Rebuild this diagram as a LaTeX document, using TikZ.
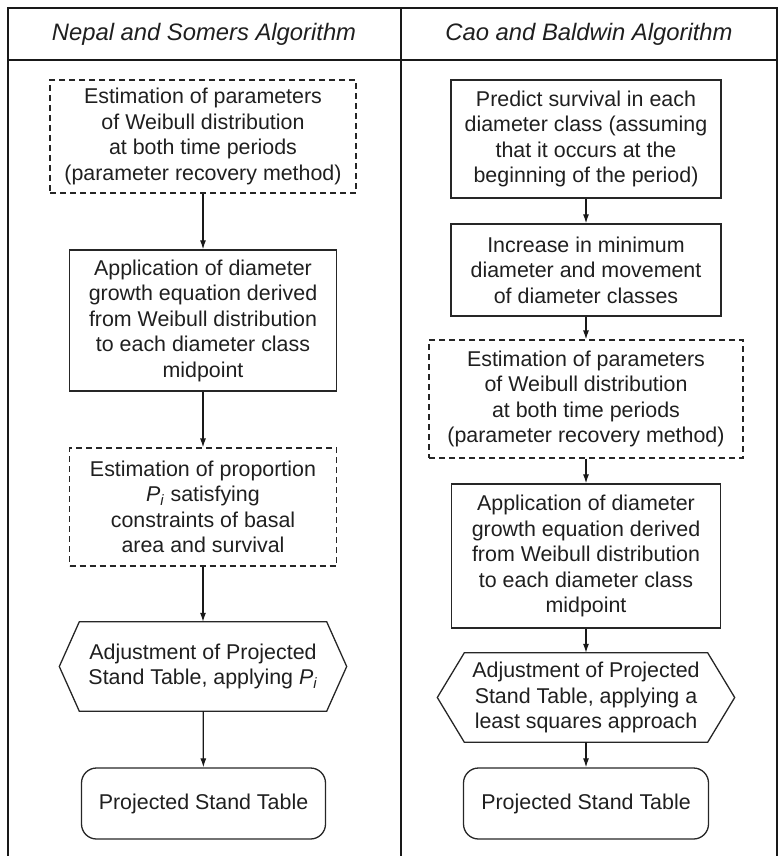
\documentclass[tikz,border=0pt]{standalone}
\usepackage{fontspec}
\setmainfont{Liberation Sans}
\usetikzlibrary{arrows.meta,calc}

\tikzset{
  body/.style={font=\fontsize{21.4pt}{25.5pt}\selectfont, text=black!88, align=center, inner sep=0pt},
  head/.style={font=\fontsize{23.8pt}{28pt}\selectfont\itshape, text=black!88, inner sep=0pt},
  solidbox/.style={body, draw=black!85, line width=1.3pt},
  dashbox/.style={body, draw=black!85, line width=1.2pt, dash pattern=on 6pt off 4pt},
  roundbox/.style={body, draw=black!85, line width=1.3pt, rounded corners=15pt},
  hexshape/.style={draw=black!85, line width=1.3pt, line join=miter},
  frame/.style={draw=black!90, line width=2pt},
  flow/.style={draw=black!90, line width=1.2pt, -{Latex[length=9pt,width=6pt]}}
}

% italic P with italic subscript i
\newcommand{\propP}{\textit{P}\textsubscript{\textit{i}}}

\begin{document}
\begin{tikzpicture}[x=1pt,y=-1pt]
  \useasboundingbox (0,0) rectangle (778,856);

  % table frame, header row and column divider
  \draw[frame] (7.5,856) -- (7.5,8) -- (776.5,8) -- (776.5,856);
  \draw[frame] (7.5,60) -- (776.5,60);
  \draw[frame] (401,8) -- (401,856);

  \node[head] (hl) at (204,34) {Nepal and Somers Algorithm};
  \node[head] (hr) at (589,34) {Cao and Baldwin Algorithm};

  % left column
  \node[dashbox, minimum width=306pt, minimum height=113pt] (l1) at (203,136.5)
    {Estimation of parameters\\of Weibull distribution\\at both time periods\\(parameter recovery method)};
  \node[solidbox, minimum width=267pt, minimum height=141pt] (l2) at (203,320.5)
    {Application of diameter\\growth equation derived\\from Weibull distribution\\to each diameter class\\midpoint};
  \node[dashbox, minimum width=267pt, minimum height=118pt] (l3) at (203,507)
    {Estimation of proportion\\\propP{} satisfying\\constraints of basal\\area and survival};
  \node[body, minimum width=247pt, minimum height=89pt] (l4) at (203,666.5)
    {Adjustment of Projected\\Stand Table, applying \propP};
  \draw[hexshape] (l4.north west) -- (l4.north east) -- ($(l4.east)+(20,0)$)
    -- (l4.south east) -- (l4.south west) -- ($(l4.west)+(-20,0)$) -- cycle;
  \node[roundbox, minimum width=244pt, minimum height=71pt] (l5) at (203.5,803.5)
    {Projected Stand Table};

  \draw[flow] (l1) -- (l2);
  \draw[flow] (l2) -- (l3);
  \draw[flow] (l3) -- (l4);
  \draw[flow] (l4) -- (l5);

  % right column
  \node[solidbox, minimum width=270pt, minimum height=118pt] (r1) at (586,139)
    {Predict survival in each\\diameter class (assuming\\that it occurs at the\\beginning of the period)};
  \node[solidbox, minimum width=270pt, minimum height=92pt] (r2) at (586,270)
    {Increase in minimum\\diameter and movement\\of diameter classes};
  \node[dashbox, minimum width=314pt, minimum height=118pt] (r3) at (586,399)
    {Estimation of parameters\\of Weibull distribution\\at both time periods\\(parameter recovery method)};
  \node[solidbox, minimum width=269pt, minimum height=144pt] (r4) at (586,556)
    {Application of diameter\\growth equation derived\\from Weibull distribution\\to each diameter class\\midpoint};
  \node[body, minimum width=243pt, minimum height=89pt] (r5) at (586,697.5)
    {Adjustment of Projected\\Stand Table, applying a\\least squares approach};
  \draw[hexshape] (r5.north west) -- (r5.north east) -- ($(r5.east)+(27,0)$)
    -- (r5.south east) -- (r5.south west) -- ($(r5.west)+(-27,0)$) -- cycle;
  \node[roundbox, minimum width=245pt, minimum height=71pt] (r6) at (586,803.5)
    {Projected Stand Table};

  \draw[flow] (r1) -- (r2);
  \draw[flow] (r2) -- (r3);
  \draw[flow] (r3) -- (r4);
  \draw[flow] (r4) -- (r5);
  \draw[flow] (r5) -- (r6);
\end{tikzpicture}
\end{document}
